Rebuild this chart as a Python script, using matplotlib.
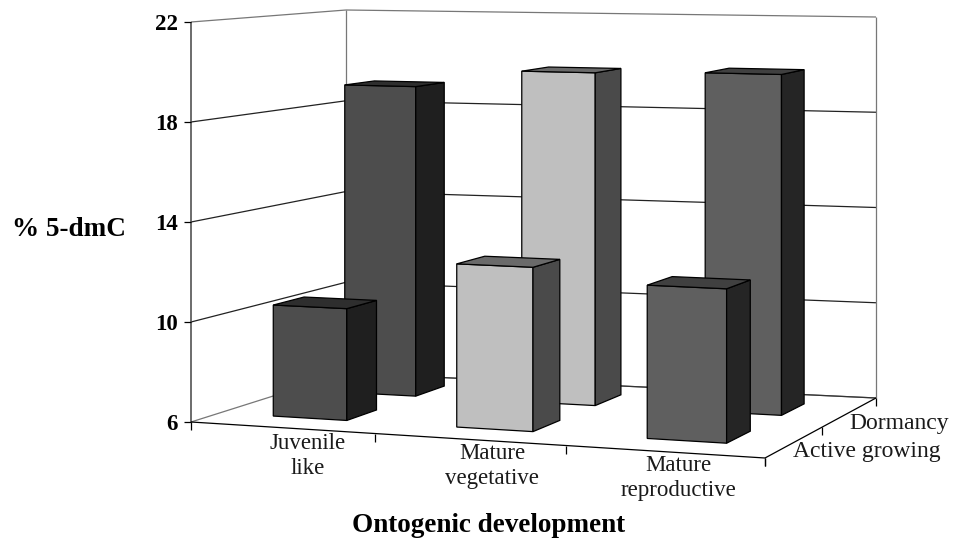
import matplotlib
matplotlib.use("Agg")
import matplotlib.pyplot as plt
import numpy as np

categories = ["Juvenile\nlike", "Mature\nvegetative", "Mature\nreproductive"]
series_names = ["Active growing", "Dormancy"]
active_growing = [10.5, 12.5, 12.0]
dormancy = [19.05, 19.8, 19.9]
value_ticks = [6, 10, 14, 18, 22]

# face, side, top
bar_colors = [("#4d4d4d", "#1f1f1f", "#2e2e2e"),
              ("#bfbfbf", "#4a4a4a", "#6a6a6a"),
              ("#5f5f5f", "#252525", "#404040")]

plt.rcParams['font.family'] = ['Liberation Serif', 'DejaVu Serif']

# floor corners in pixels: front-left, front-right, back-right, back-left
floor_src = [(0, 0), (1, 0), (1, 1), (0, 1)]
floor_dst = [(191, 422), (765, 458), (876, 398), (346, 373)]
# wall height in pixels at those corners, gives the perspective on z
wall_h = {"fl": 400.0, "bl": 363.0, "br": 381.0}

A = []
b = []
for (u, v), (px, py) in zip(floor_src, floor_dst):
    A.append([u, v, 1, 0, 0, 0, -u * px, -v * px])
    A.append([0, 0, 0, u, v, 1, -u * py, -v * py])
    b += [px, py]
H = np.linalg.solve(np.array(A, float), np.array(b, float))
H = np.append(H, 1).reshape(3, 3)

inv_a = 1 / wall_h["fl"]
inv_b = 1 / wall_h["br"] - 1 / wall_h["bl"]
inv_c = 1 / wall_h["bl"] - 1 / wall_h["fl"]
persp = 0.4  # full homography squeezes the front too much, so only partly


def project(u, v, val):
    # u along categories, v along depth, val in % units
    p = H @ np.array([u, v, 1.0])
    corners = np.array(floor_dst, float)
    flat = ((1 - u) * (1 - v) * corners[0] + u * (1 - v) * corners[1]
            + u * v * corners[2] + (1 - u) * v * corners[3])
    x = persp * p[0] / p[2] + (1 - persp) * flat[0]
    y = persp * p[1] / p[2] + (1 - persp) * flat[1]
    h = 1 / (inv_a + inv_b * u + inv_c * v)
    return x, y - h * (val - value_ticks[0]) / (value_ticks[-1] - value_ticks[0])


fig = plt.figure(figsize=(9.54, 5.47), dpi=100)
ax = fig.add_axes([0, 0, 1, 1])
ax.set_xlim(0, 954)
ax.set_ylim(547, 0)
ax.axis("off")


def line(p0, p1, color="black", lw=0.9):
    ax.plot([p0[0], p1[0]], [p0[1], p1[1]], color=color, lw=lw, solid_capstyle="butt", zorder=1)


# walls and gridlines
for val in value_ticks:
    c = "#777777" if val in (6, 22) else "#222222"
    line(project(0, 0, val), project(0, 1, val), c)
    line(project(0, 1, val), project(1, 1, val), c)
line(project(0, 1, value_ticks[0]), project(1, 1, value_ticks[0]), "#333333")
line(project(0, 1, value_ticks[0]), project(0, 1, value_ticks[-1]), "#777777")
line(project(1, 1, value_ticks[0]), project(1, 1, value_ticks[-1]), "#777777")
line(project(0, 0, value_ticks[0]), project(0, 0, value_ticks[-1]), "#444444", 1.1)

# front and side floor edges with their ticks
line(project(0, 0, 6), project(1, 0, 6))
line(project(1, 0, 6), project(1, 1, 6))
for i in range(len(categories) + 1):
    x, y = project(i / len(categories), 0, 6)
    line((x, y), (x, y + 8))
for j in range(len(series_names) + 1):
    x, y = project(1, j / len(series_names), 6)
    line((x, y), (x, y + 8))
for val in value_ticks:
    x, y = project(0, 0, val)
    line((x - 7, y), (x, y))
    ax.text(x - 13, y + 3, str(val), ha="right", va="center", fontsize=16.5, fontweight="bold")

bar_w = 0.135
bar_d = 0.2
row_start = [0.18, 0.65]


def draw_bar(i, j, val):
    u0 = (i + 0.5) / len(categories) - bar_w / 2
    u1 = u0 + bar_w
    v0 = row_start[j]
    v1 = v0 + bar_d
    face, side, top = bar_colors[i]
    quads = [
        (face, [(u0, v0, 6), (u1, v0, 6), (u1, v0, val), (u0, v0, val)]),
        (side, [(u1, v0, 6), (u1, v1, 6), (u1, v1, val), (u1, v0, val)]),
        (top, [(u0, v0, val), (u1, v0, val), (u1, v1, val), (u0, v1, val)]),
    ]
    for color, quad in quads:
        pts = [project(*q) for q in quad]
        ax.fill([p[0] for p in pts], [p[1] for p in pts], facecolor=color,
                edgecolor="black", lw=0.9, joinstyle="miter", zorder=3)


# back row first so the front row covers it
for i, val in enumerate(dormancy):
    draw_bar(i, 1, val)
for i, val in enumerate(active_growing):
    draw_bar(i, 0, val)

# labels
label_pos = [(308, 456), (492, 466), (678, 478)]
for name, (x, y) in zip(categories, label_pos):
    ax.text(x, y, name, ha="center", va="center", fontsize=16.5, linespacing=1.2, color="#1a1a1a")
ax.text(793, 451, series_names[0], ha="left", va="center", fontsize=17, color="#1a1a1a")
ax.text(849, 423, series_names[1], ha="left", va="center", fontsize=17, color="#1a1a1a")
ax.text(12, 230, "% 5-dmC", ha="left", va="center", fontsize=19.5, fontweight="bold")
ax.text(489, 526, "Ontogenic development", ha="center", va="center", fontsize=19.5, fontweight="bold")

fig.savefig("out.png", dpi=100)
